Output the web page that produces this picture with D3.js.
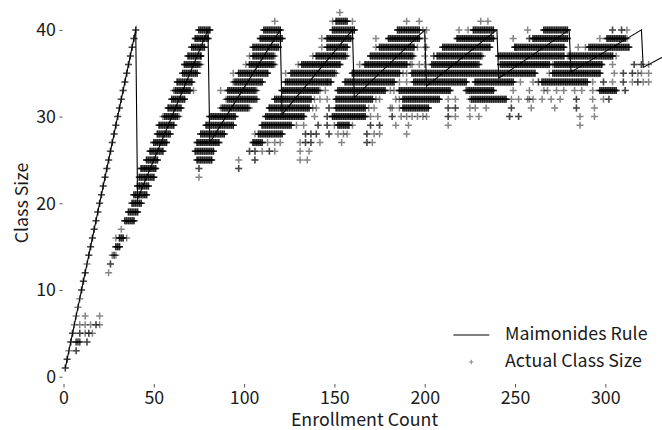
<!DOCTYPE html>
<html><head><meta charset="utf-8">
<script src="https://cdn.jsdelivr.net/npm/d3@7"></script>
<style>
body{margin:0;background:#fff}
text{font-family:"Noto Sans CJK JP","Noto Sans",sans-serif}
</style>
</head><body>
<svg id="chart" width="662" height="430"></svg>
<script>
// Maimonides rule line (enrollment -> predicted class size), breakpoints
const ruleEnrollment = [1,40,41,80,81,120,121,160,161,200,201,240,241,280,281,320,321,332];
const ruleClassSize  = [1,40,20.5,40,27,40,30.25,40,32.2,40,33.5,40,34.43,40,35.13,40,35.67,36.89];

// Actual class sizes (integer rows) and the enrollment values observed at each
const classSizes = d3.range(1, 43);
// enrollment ranges densely filled with schools at that class size
const denseRuns = [
  [],[],[],[],[],[],[],[],[],[],[],[],[],[],
  [[29,31]],
  [[31,33]],
  [],
  [[34,39]],
  [[36,41]],
  [[38,43]],
  [[39,46]],
  [[41,47]],
  [[42,50]],
  [[43,51]],
  [[46,52],[74,82]],
  [[48,55],[73,83]],
  [[50,57],[74,86],[105,110]],
  [[52,59],[76,89],[108,121]],
  [[53,61],[79,94],[110,126],[152,158]],
  [[56,63],[81,95],[112,133],[149,167]],
  [[58,65],[88,102],[114,136],[151,167],[188,202]],
  [[60,67],[91,106],[117,137],[151,171],[188,208],[226,245]],
  [[62,70],[91,106],[121,141],[152,178],[186,214],[224,238],[297,306]],
  [[63,71],[95,110],[123,148],[156,183],[194,223],[228,249],[265,290]],
  [[66,74],[97,113],[126,150],[160,186],[193,261],[271,297]],
  [[67,75],[103,116],[132,153],[167,190],[204,229],[242,269],[272,298]],
  [[69,76],[105,116],[140,156],[170,193],[207,231],[241,277],[280,304]],
  [[71,78],[105,119],[146,157],[175,194],[210,236],[250,277],[291,313]],
  [[73,80],[109,121],[146,159],[180,197],[218,238],[260,279],[301,311]],
  [[75,81],[111,120],[149,161],[185,197],[227,238],[266,279]],
  [[151,157]],
  []
];
// isolated schools (a repeated value = several schools at the same point)
const singleEnrollments = [
  [1,1],
  [2,2],
  [3,7,7],
  [4,4,7,7,8,8,9,9,13,13],
  [5,5,9,9,12,14,14,16],
  [6,9,12,15,18,18,20],
  [7,12,20],
  [8],
  [9],
  [10,10],
  [11,11],
  [12,12,25],
  [13,26,26],
  [14,14,27,28,28,29],
  [15,15],
  [16,16,29,35],
  [17,17,32],
  [18,18],
  [19,19],
  [20,20],
  [21,21],
  [22,22],
  [23,23,75],
  [24,24,75,75,97,97],
  [25,25,97,106,106,131,135],
  [26,26,103,103,106,106,110,114,114,117,131,136],
  [27,27,113,117,120,131,134,134,137,137,142,154,168,168,171],
  [28,28,106,134,134,137,137,140,140,147,147,152,155,157,168,168,172,175,190],
  [29,29,129,133,141,141,146,146,150,160,170,170,175,175,184,191,213,286],
  [30,30,55,64,139,146,146,170,174,182,182,187,190,193,196,199,201,213,213,217,225,230,247,247,252,252,286,294],
  [31,31,87,103,138,140,147,147,169,172,181,182,186,213,213,217,217,225,228,234,248,248,259,272,284,284,294],
  [32,32,90,107,107,139,142,146,173,175,184,186,213,217,225,248,252,257,258,260,265,270,275,284,284,293,299,302,302],
  [33,33,61,72,87,107,142,145,181,183,223,223,249,258,266,268,273,277,283,287,293,311,311],
  [34,34,94,146,186,190,253,260,263,263,293,299,299,304,310,310,315,318,318,321,324],
  [35,35,94,123,151,188,190,269,305,310,310,315,315,318,320,324],
  [36,36,76,101,117,130,164,192,193,197,200,230,230,271,304,316,316,320,320,324],
  [37,37,76,103,117,138,157,194,200,205,205,232,279,306],
  [38,38,143,173,196,200,201,250,285,289],
  [39,39,143,173,200,249,258,258,297,312],
  [40,40,199,201,219,224,257,304,304,309,309,312],
  [117,149,160,190,197,231,235],
  [153]
];

const xTicks = [0,50,100,150,200,250,300];
const yTicks = [0,10,20,30,40];
const xTitle = "Enrollment Count";
const yTitle = "Class Size";
const legendLabels = ["Maimonides Rule","Actual Class Size"];

const FS = "17.8px";
const svg = d3.select("#chart");
const x = d3.scaleLinear().domain([0,300]).range([63.5, 605.3]);
const y = d3.scaleLinear().domain([0,40]).range([376.7, 29.9]);

// points
const pts = [];
classSizes.forEach((s,i)=>{
  denseRuns[i].forEach(([a,b])=>{ for(let e=a;e<=b;e++){ pts.push([e,s]); pts.push([e,s]); pts.push([e,s]); } });
  singleEnrollments[i].forEach(e=>pts.push([e,s]));
});
const cross = "M-3.5,0H3.5M0,-3.5V3.5";
svg.append("g").selectAll("path").data(pts).join("path")
  .attr("d", cross)
  .attr("transform", d=>`translate(${x(d[0])},${y(d[1])})`)
  .attr("stroke","#000").attr("stroke-opacity",0.48).attr("stroke-width",1.5).attr("fill","none");

// rule line
const lineData = ruleEnrollment.map((e,i)=>[e, ruleClassSize[i]]);
svg.append("path").datum(lineData)
  .attr("d", d3.line().x(d=>x(d[0])).y(d=>y(d[1])))
  .attr("fill","none").attr("stroke","#000").attr("stroke-width",1.1)
  .attr("stroke-linejoin","miter").attr("stroke-miterlimit",20);

// axes
const gy = svg.append("g").attr("transform","translate(62.5,0)")
  .call(d3.axisLeft(y).tickValues(yTicks).tickSize(3).tickPadding(3.5));
const gx = svg.append("g").attr("transform","translate(0,384)")
  .call(d3.axisBottom(x).tickValues(xTicks).tickSize(3.5).tickPadding(4.3));
[gx,gy].forEach(g=>{
  g.select(".domain").remove();
  g.selectAll(".tick line").attr("stroke","#555");
  g.selectAll(".tick text").attr("fill","#1a1a1a").style("font-size",FS)
    .style("font-family",'"Noto Sans CJK JP","Noto Sans",sans-serif');
});

svg.append("text").attr("x",364.5).attr("y",425.5).attr("text-anchor","middle")
  .attr("fill","#1a1a1a").style("font-size",FS).text(xTitle);
svg.append("text").attr("transform","translate(28,203) rotate(-90)").attr("text-anchor","middle")
  .attr("fill","#1a1a1a").style("font-size",FS).text(yTitle);

// legend
const lg = svg.append("g");
lg.append("line").attr("x1",453.3).attr("x2",489.3).attr("y1",335).attr("y2",335)
  .attr("stroke","#000").attr("stroke-width",1.1);
lg.append("path").attr("d","M-2.3,0H2.3M0,-2.3V2.3").attr("transform","translate(471.3,362)")
  .attr("stroke","#000").attr("stroke-opacity",0.45).attr("stroke-width",1.1);
lg.selectAll("text.lab").data(legendLabels).join("text").attr("class","lab")
  .attr("x",505).attr("y",(d,i)=>340.3+i*26.5).attr("fill","#1a1a1a").style("font-size",FS).text(d=>d);
</script>
</body></html>
